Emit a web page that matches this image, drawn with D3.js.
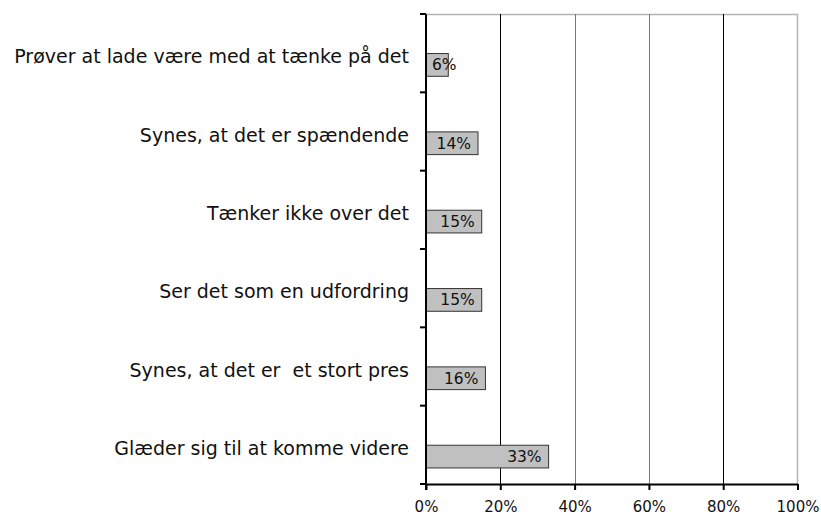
<!DOCTYPE html>
<html>
<head>
<meta charset="utf-8">
<script src="https://cdn.jsdelivr.net/npm/d3@7"></script>
<style>
  body { margin: 0; background: #fff; }
  text { font-family: 'DejaVu Sans', Verdana, sans-serif; white-space: pre; }
</style>
</head>
<body>
<div id="chart"></div>
<script>
const categories = [
  'Prøver at lade være med at tænke på det',
  'Synes, at det er spændende',
  'Tænker ikke over det',
  'Ser det som en udfordring',
  'Synes, at det er  et stort pres',
  'Glæder sig til at komme videre'
]
const values = [6, 14, 15, 15, 16, 33]
const tickValues = [0, 20, 40, 60, 80, 100]

const width = 821
const height = 516
const margin = { top: 14, left: 426, right: 23.5, bottom: 32 }

const svg = d3
  .select('#chart')
  .append('svg')
  .attr('width', width)
  .attr('height', height)

const x = d3
  .scaleLinear()
  .domain([0, 100])
  .range([margin.left, width - margin.right])

const y = d3
  .scaleBand()
  .domain(categories)
  .range([margin.top, height - margin.bottom])

const bw = y.bandwidth()

// plot frame: top and right border in grey
svg
  .append('path')
  .attr('d', `M${x(0)},${margin.top + 0.5}H${x(100)}V${height - margin.bottom}`)
  .attr('fill', 'none')
  .attr('stroke', '#b3b3b3')
  .attr('stroke-width', 1.5)

// gridlines
svg
  .selectAll('.grid')
  .data(tickValues.slice(1, 5))
  .enter()
  .append('line')
  .attr('class', 'grid')
  .attr('x1', d => Math.round(x(d)) + 0.5)
  .attr('x2', d => Math.round(x(d)) + 0.5)
  .attr('y1', margin.top)
  .attr('y2', height - margin.bottom)
  .attr('stroke', (d, i) => (i % 3 === 0 ? '#000' : '#777'))
  .attr('stroke-width', 1)

// bars
svg
  .selectAll('.bar')
  .data(values)
  .enter()
  .append('rect')
  .attr('class', 'bar')
  .attr('x', x(0))
  .attr('y', (d, i) => y(categories[i]) + bw * 0.505)
  .attr('width', d => x(d) - x(0))
  .attr('height', bw * 0.29)
  .attr('fill', '#c0c0c0')
  .attr('stroke', '#333')
  .attr('stroke-width', 1)

// value labels
svg
  .selectAll('.val')
  .data(values)
  .enter()
  .append('text')
  .attr('class', 'val')
  .attr('font-size', 15.5)
  .attr('fill', '#111')
  .attr('y', (d, i) => y(categories[i]) + bw * 0.65 + 5.5)
  .text(d => d + '%')
  .each(function(d) {
    const w = this.getComputedTextLength()
    const end = Math.max(x(d) - 7, x(0) + 6 + w)
    d3.select(this).attr('x', end).attr('text-anchor', 'end')
  })

// category labels
svg
  .selectAll('.cat')
  .data(categories)
  .enter()
  .append('text')
  .attr('class', 'cat')
  .attr('x', 409)
  .attr('y', d => y(d) + bw / 2 + 10)
  .attr('text-anchor', 'end')
  .attr('font-size', 19)
  .attr('fill', '#111')
  .text(d => d)

// y axis line and ticks
const yTicks = categories.map(d => y(d)).concat([height - margin.bottom])
svg
  .append('line')
  .attr('x1', x(0))
  .attr('x2', x(0))
  .attr('y1', margin.top)
  .attr('y2', height - margin.bottom + 6)
  .attr('stroke', '#000')
  .attr('stroke-width', 2)

svg
  .selectAll('.ytick')
  .data(yTicks)
  .enter()
  .append('line')
  .attr('class', 'ytick')
  .attr('x1', x(0) - 6)
  .attr('x2', x(0))
  .attr('y1', d => d)
  .attr('y2', d => d)
  .attr('stroke', '#000')
  .attr('stroke-width', 2)

// x axis
const xAxis = svg
  .append('g')
  .attr('transform', `translate(0,${height - margin.bottom})`)
  .call(
    d3
      .axisBottom(x)
      .tickValues(tickValues)
      .tickFormat(d => d + '%')
      .tickSize(6)
      .tickSizeOuter(0)
  )

xAxis.select('.domain').attr('stroke', '#000').attr('stroke-width', 2)
xAxis.selectAll('.tick line').attr('stroke', '#000').attr('stroke-width', 2)
xAxis
  .selectAll('.tick text')
  .attr('font-family', "'DejaVu Sans', Verdana, sans-serif")
  .attr('font-size', 15)
  .attr('fill', '#111')
  .attr('y', 27.5)
  .attr('dy', 0)
</script>
</body>
</html>
